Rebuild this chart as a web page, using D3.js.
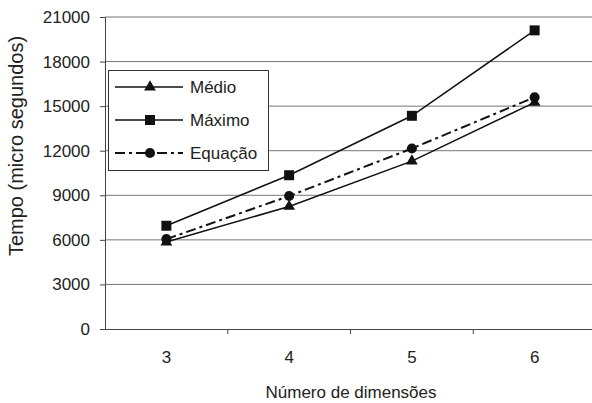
<!DOCTYPE html>
<html><head><meta charset="utf-8">
<script src="https://cdn.jsdelivr.net/npm/d3@7"></script>
<style>body{margin:0;background:#fff}svg{display:block}text{font-family:"Liberation Sans",Arial,sans-serif;fill:#222}</style>
</head><body>
<svg id="c" width="592" height="403"></svg>
<script>
const categories = ["3","4","5","6"];
const medio   = [5850, 8250, 11300, 15250];
const maximo  = [6950, 10350, 14350, 20100];
const equacao = [6050, 8950, 12150, 15600];
const yTicks  = [0,3000,6000,9000,12000,15000,18000,21000];
const seriesNames = ["Médio","Máximo","Equação"];

const svg = d3.select("#c");
const pLeft=105, pRight=596, pTop=17, pBottom=329;
const x = d3.scaleBand().domain(categories).range([pLeft,pRight]);
const y = d3.scaleLinear().domain([0,21000]).range([pBottom,pTop]);

// gridlines
svg.append("g").selectAll("line").data(yTicks.filter(d=>d>0)).join("line")
  .attr("x1",pLeft).attr("x2",pRight).attr("y1",d=>y(d)).attr("y2",d=>y(d))
  .attr("stroke","#777").attr("stroke-width",1);

// y axis
const ya = svg.append("g").attr("transform",`translate(${pLeft},0)`)
  .call(d3.axisLeft(y).tickValues(yTicks).tickSize(5).tickPadding(10).tickFormat(d3.format("d")));
ya.select(".domain").attr("stroke","#444");
ya.selectAll(".tick line").attr("stroke","#444");
ya.selectAll("text").attr("font-size",17).attr("font-family","Liberation Sans, Arial, sans-serif").attr("fill","#222");

// x axis
const xa = svg.append("g").attr("transform",`translate(0,${pBottom})`)
  .call(d3.axisBottom(x).tickSize(0).tickPadding(22));
xa.select(".domain").attr("stroke","#444");
xa.selectAll("text").attr("font-size",17).attr("font-family","Liberation Sans, Arial, sans-serif").attr("fill","#222");
// category boundary ticks
svg.append("g").selectAll("line").data(categories.slice(1)).join("line")
  .attr("x1",d=>x(d)).attr("x2",d=>x(d)).attr("y1",pBottom).attr("y2",pBottom+5)
  .attr("stroke","#444");

// axis titles
svg.append("text").attr("x",351).attr("y",398).attr("text-anchor","middle")
  .attr("font-size",17).text("Número de dimensões");
svg.append("text").attr("transform","translate(23,146) rotate(-90)").attr("text-anchor","middle")
  .attr("font-size",20).text("Tempo (micro segundos)");

const cx = d => x(d)+x.bandwidth()/2;
const line = d3.line().x((d,i)=>cx(categories[i])).y(d=>y(d));
const data = [medio, maximo, equacao];
const dashes = [null, null, "10,4,3,4"];
const sym = [d3.symbolTriangle, d3.symbolSquare, d3.symbolCircle];
const symSize = [60, 100, 80];

data.forEach((s,k)=>{
  svg.append("path").datum(s).attr("d",line).attr("fill","none")
    .attr("stroke","#111").attr("stroke-width",k==2?2:1.5)
    .attr("stroke-dasharray",dashes[k]);
});
data.forEach((s,k)=>{
  svg.append("g").selectAll("path").data(s).join("path")
    .attr("transform",(d,i)=>`translate(${cx(categories[i])},${y(d)})`)
    .attr("d",d3.symbol().type(sym[k]).size(symSize[k])).attr("fill","#111");
});

// legend
const lg = svg.append("g");
lg.append("rect").attr("x",108.5).attr("y",70.5).attr("width",160).attr("height",100)
  .attr("fill","#fff").attr("stroke","#333").attr("stroke-width",1);
const ly = [87,120,153];
seriesNames.forEach((n,k)=>{
  lg.append("line").attr("x1",115).attr("x2",183).attr("y1",ly[k]).attr("y2",ly[k])
    .attr("stroke","#111").attr("stroke-width",k==2?2:1.5).attr("stroke-dasharray",dashes[k]);
  lg.append("path").attr("transform",`translate(150,${ly[k]})`)
    .attr("d",d3.symbol().type(sym[k]).size(symSize[k])).attr("fill","#111");
  lg.append("text").attr("x",190).attr("y",ly[k]).attr("dy","0.35em")
    .attr("font-size",17).text(n);
});
</script>
</body></html>
